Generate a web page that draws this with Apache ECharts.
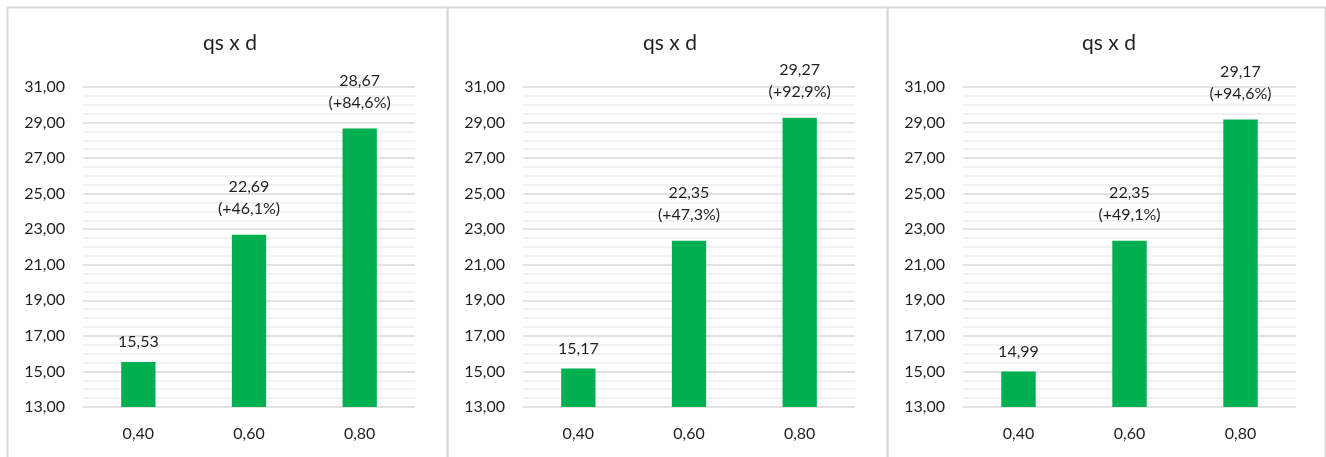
<!DOCTYPE html>
<html><head><meta charset="utf-8">
<script src="https://cdn.jsdelivr.net/npm/echarts@6/dist/echarts.min.js"></script>
<style>html,body{margin:0;padding:0;background:#fff}#c{width:1326px;height:457px}</style>
</head><body><div id="c"></div>
<script>
const categories = ['0,40', '0,60', '0,80'];
const panel1 = [15.53, 22.69, 28.67];
const panel2 = [15.17, 22.35, 29.27];
const panel3 = [14.99, 22.35, 29.17];
const titles = ['qs x d', 'qs x d', 'qs x d'];
const yTicks = { min: 13, max: 31, interval: 2 };

const panels = [panel1, panel2, panel3];
const fmt = v => v.toFixed(2).replace('.', ',');
const textColor = '#1f1f1f';
const font = 'Lato, "Open Sans", sans-serif';

const panelX = [5, 445, 885];
const panelW = [440, 440, 438];
const gridLeft = [83, 523, 963];
const gridRight = [1326 - 415, 1326 - 855, 1326 - 1296];

const option = {
  animation: false,
  backgroundColor: '#fff',
  graphic: panelX.map((x, i) => ({
    type: 'rect', left: x, top: 5, silent: true,
    shape: { width: panelW[i], height: 470 },
    style: { fill: 'none', stroke: '#d9d9d9', lineWidth: 2 }
  })),
  title: titles.map((t, i) => ({
    text: t, left: panelX[i] + panelW[i] / 2, top: 28, textAlign: 'center',
    textStyle: { fontFamily: font, fontSize: 21, fontWeight: 'normal', color: textColor }
  })),
  grid: panels.map((p, i) => ({ left: gridLeft[i], right: gridRight[i], top: 87, bottom: 50 })),
  xAxis: panels.map((p, i) => ({
    type: 'category', gridIndex: i, data: categories,
    axisLine: { show: false }, axisTick: { show: false },
    axisLabel: { fontFamily: font, fontSize: 16, color: textColor, margin: 19 }
  })),
  yAxis: panels.map((p, i) => ({
    type: 'value', gridIndex: i, min: yTicks.min, max: yTicks.max, interval: yTicks.interval,
    axisLine: { show: false }, axisTick: { show: false },
    axisLabel: { fontFamily: font, fontSize: 16, color: textColor, margin: 18, formatter: fmt },
    splitLine: { show: true, lineStyle: { color: '#d9d9d9', width: 1.5 } },
    minorTick: { show: false, splitNumber: 4 },
    minorSplitLine: { show: true, lineStyle: { color: '#eeeeee', width: 1.5 } }
  })),
  series: panels.map((p, i) => ({
    type: 'bar', xAxisIndex: i, yAxisIndex: i, barWidth: '31%',
    itemStyle: { color: '#00B050' },
    data: p.map((v, j) => ({
      value: v,
      label: {
        show: true, position: 'top', distance: j === 0 ? 9 : 15,
        fontFamily: font, fontSize: 16, lineHeight: 22, color: textColor,
        formatter: j === 0 ? fmt(v)
          : fmt(v) + '\n(+' + ((v / p[0] - 1) * 100).toFixed(1).replace('.', ',') + '%)'
      }
    }))
  }))
};
echarts.init(document.getElementById('c')).setOption(option);
</script></body></html>
